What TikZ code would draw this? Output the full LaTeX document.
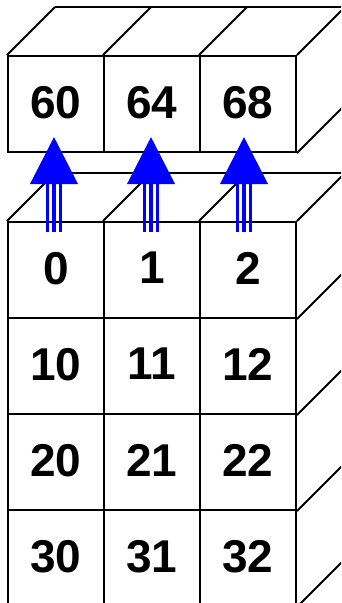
\documentclass[tikz,border=0pt]{standalone}
\usepackage{fontspec}
\usepackage{tikz}
\usetikzlibrary{arrows.meta}
\newfontfamily\cellfont{Liberation Sans}

\begin{document}
\begin{tikzpicture}[x=1pt, y=-1pt,
    cell/.style={
        draw=black,
        line width=2pt,
        minimum width=96pt,
        minimum height=96pt,  % 方块正面
        inner sep=0pt,
        text depth=4pt,       % 文字稍微往上
        font=\cellfont\bfseries\fontsize{46}{50}\selectfont
    },
    depth/.style={draw=black, line width=2pt},   % 斜线 (立体感)
    shaft/.style={draw=blue, line width=3pt},
    tip/.style={-{Triangle[length=47pt,width=47pt]}, line width=4pt}
]
    % 画布大小, 右边和下边被裁掉
    \useasboundingbox (0,0) rectangle (341,603);
    \clip (0,0) rectangle (341,603);

    % 上面一行
    \node[cell] (t0) at (56,104) {60};
    \node[cell] (t1) at (152,104) {64};
    \node[cell] (t2) at (248,104) {68};

    % 下面 4x3 的方块
    \foreach \r in {0,...,3}{
        \foreach \c in {0,1,2}{
            \pgfmathtruncatemacro{\val}{10*\r+\c}
            \node[cell] (c\r\c) at (56+96*\c, 270+96*\r) {\val};
        }
    }

    % 上面一行的顶面和右侧面
    \foreach \n in {t0,t1,t2}
        \draw[depth] (\n.north west) -- ++(48,-48);
    \draw[depth] (t2.north east) -- ++(48,-48);
    \draw[depth] (t2.south east) -- ++(48,-48);
    \draw[depth] ([shift={(48,-48)}]t0.north west) -- ([shift={(48,-48)}]t2.north east);

    % 下面方块的顶面和右侧面
    \foreach \n in {c00,c01,c02}
        \draw[depth] (\n.north west) -- ++(48,-48);
    \draw[depth] (c02.north east) -- ++(48,-48);
    \foreach \r in {0,...,3}
        \draw[depth] (c\r2.south east) -- ++(48,-48);
    \draw[depth] ([shift={(48,-48)}]c00.north west) -- ([shift={(48,-48)}]c02.north east);

    % 蓝色箭头 (三条线)
    \foreach \c/\dx in {0/-2,1/-1,2/-4}{
        \draw[shaft, tip] ([xshift=\dx pt, yshift=-11pt]c0\c.north) -- ([xshift=\dx pt, yshift=16pt]t\c.south);
        \foreach \s in {-6.5,6.5}{
            \pgfmathsetmacro{\sx}{\dx+\s}
            \draw[shaft] ([xshift=\sx pt, yshift=-11pt]c0\c.north) -- ([xshift=\sx pt, yshift=-28pt]t\c.south);
        }
    }
\end{tikzpicture}
\end{document}
